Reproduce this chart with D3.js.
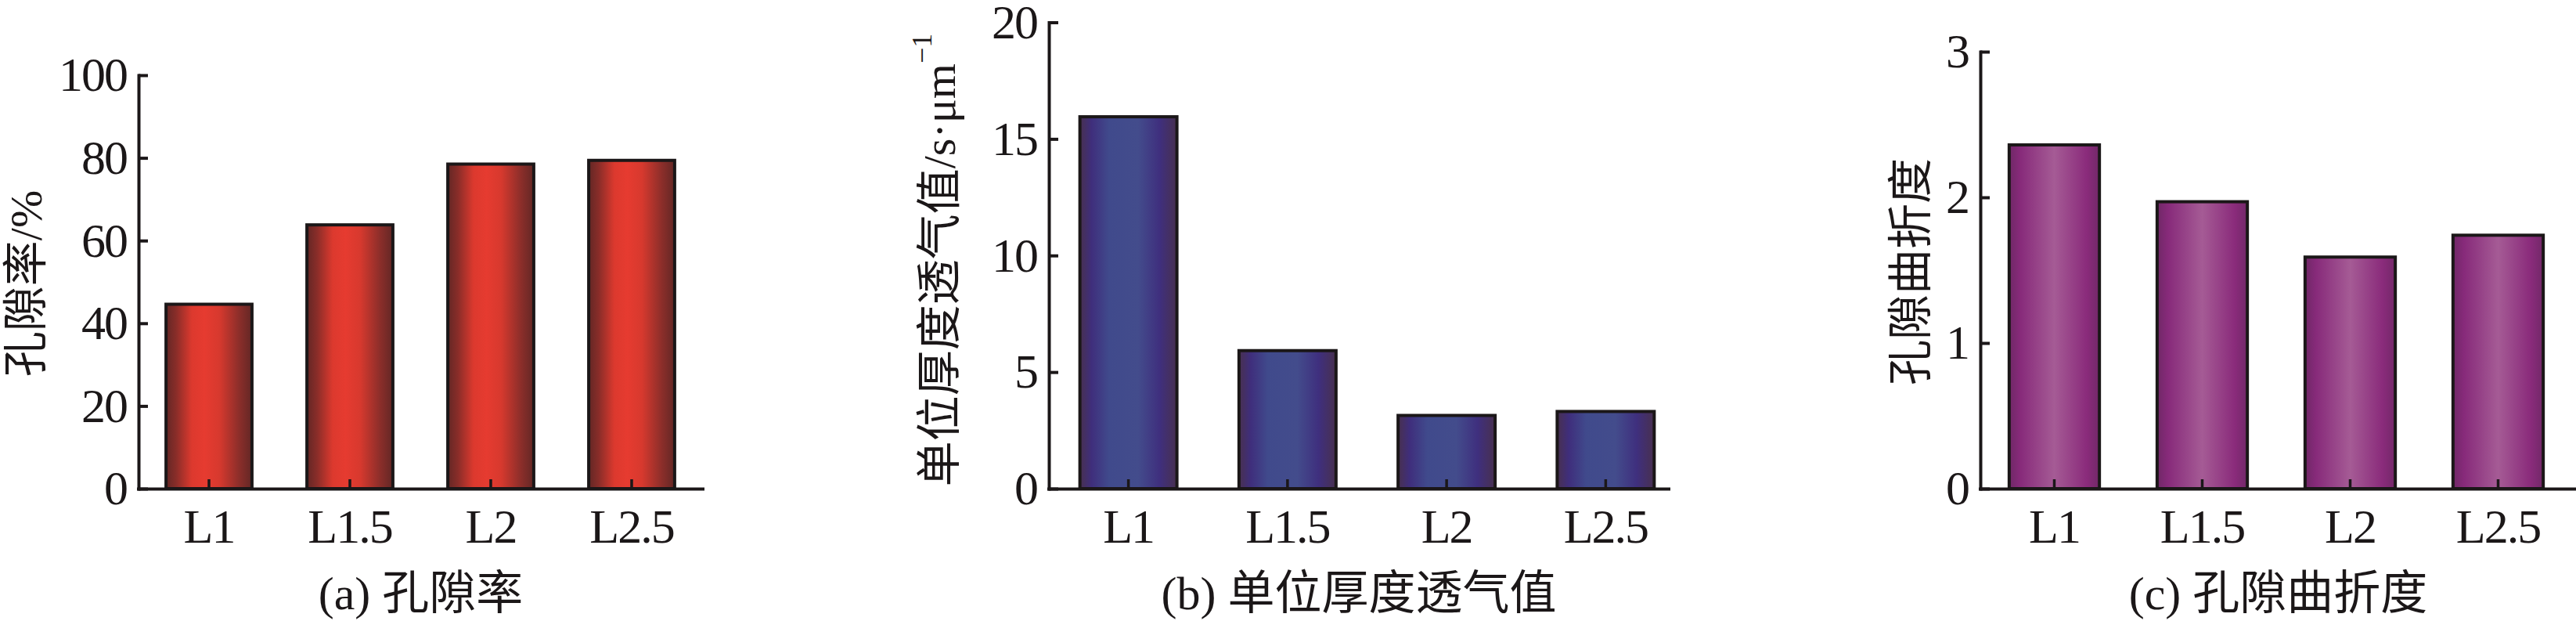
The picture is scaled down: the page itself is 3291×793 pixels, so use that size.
<!DOCTYPE html>
<html>
<head>
<meta charset="utf-8">
<script src="https://cdn.jsdelivr.net/npm/d3@7"></script>
<style>
  html, body { margin: 0; padding: 0; background: #fff; }
  svg { display: block; }
</style>
</head>
<body>
<svg id="chart" width="3291" height="793"></svg>
<script>
// ---------------- data ----------------
const categories = ["L1", "L1.5", "L2", "L2.5"];
const porosity = [44.6, 63.8, 78.5, 79.4];          // 孔隙率 / %
const permeability = [15.95, 5.92, 3.14, 3.31];     // 单位厚度透气值 / s·μm⁻¹
const tortuosity = [2.36, 1.97, 1.59, 1.74];        // 孔隙曲折度
const porosityTicks = [0, 20, 40, 60, 80, 100];
const permeabilityTicks = [0, 5, 10, 15, 20];
const tortuosityTicks = [0, 1, 2, 3];
const captions = ["(a) 孔隙率", "(b) 单位厚度透气值", "(c) 孔隙曲折度"];
const yTitles = ["孔隙率/%", "单位厚度透气值/s·μm", "孔隙曲折度"];
const yTitleSup = ["", "−1", ""];

// ---------------- layout / style ----------------
const FONT = "'Liberation Serif', 'Noto Sans CJK SC', serif";
const INK = "#1b1718";
const yZero = 624;
const panels = [
  { values: porosity, ticks: porosityTicks, max: 100, x0: 177, x1: 897, axisEnd: 898, yTop: 96,
    titleX: 33, titleY: 362, grad: "gradRed" },
  { values: permeability, ticks: permeabilityTicks, max: 20, x0: 1340, x1: 2153, axisEnd: 2132, yTop: 28.5,
    titleX: 1200, titleY: 332, grad: "gradBlue" },
  { values: tortuosity, ticks: tortuosityTicks, max: 3, x0: 2530, x1: 3286, axisEnd: 3291, yTop: 66,
    titleX: 2441, titleY: 347, grad: "gradPurple" }
];
const gradients = {
  gradRed: [[0, "#632725"], [0.12, "#8a2d29"], [0.3, "#dc392e"], [0.45, "#e63b30"], [0.62, "#d7392e"], [0.85, "#8c2e2a"], [1, "#632725"]],
  gradBlue: [[0, "#48304f"], [0.12, "#3f2e7c"], [0.3, "#404a8c"], [0.6, "#434c8c"], [0.82, "#3f2f7e"], [1, "#48304f"]],
  gradPurple: [[0, "#6f2866"], [0.12, "#872a7a"], [0.5, "#a55b95"], [0.86, "#8a2b7b"], [1, "#722868"]]
};

const svg = d3.select("#chart");
const defs = svg.append("defs");
Object.entries(gradients).forEach(([id, stops]) => {
  const g = defs.append("linearGradient").attr("id", id)
    .attr("x1", 0).attr("x2", 1).attr("y1", 0).attr("y2", 0);
  stops.forEach(([o, c]) => g.append("stop").attr("offset", o).attr("stop-color", c));
});

panels.forEach((p, i) => {
  const x = d3.scaleBand().domain(categories).range([p.x0, p.x1])
    .paddingInner(0.39).paddingOuter(0.195);
  const y = d3.scaleLinear().domain([0, p.max]).range([yZero, p.yTop]);
  const g = svg.append("g");

  // bars
  g.selectAll("rect.bar").data(p.values).join("rect")
    .attr("class", "bar")
    .attr("x", (d, j) => x(categories[j]))
    .attr("y", d => y(d))
    .attr("width", x.bandwidth())
    .attr("height", d => y(0) - y(d))
    .attr("fill", `url(#${p.grad})`)
    .attr("stroke", INK)
    .attr("stroke-width", 4);

  // y axis
  const ya = g.append("g").attr("transform", `translate(${p.x0},0)`)
    .call(d3.axisLeft(y).tickValues(p.ticks).tickFormat(d3.format("d"))
      .tickSize(-12).tickPadding(15).tickSizeOuter(0));
  ya.attr("font-size", 62).attr("font-family", FONT);
  ya.select(".domain").attr("stroke", INK).attr("stroke-width", 4).attr("stroke-linecap", "square");
  ya.selectAll(".tick line").attr("stroke", INK).attr("stroke-width", 4);
  ya.selectAll(".tick text").attr("fill", INK).attr("letter-spacing", "-2px");

  // x axis
  const xa = g.append("g").attr("transform", `translate(0,${yZero})`)
    .call(d3.axisBottom(x).tickSize(-12).tickPadding(25).tickSizeOuter(0));
  xa.attr("font-size", 62).attr("font-family", FONT);
  xa.select(".domain").attr("d", `M${p.x0},0.5H${p.axisEnd}`)
    .attr("stroke", INK).attr("stroke-width", 4).attr("stroke-linecap", "square");
  xa.selectAll(".tick line").attr("stroke", INK).attr("stroke-width", 3.5);
  xa.selectAll(".tick text").attr("fill", INK).attr("letter-spacing", "-2px");

  // y title
  const t = g.append("text")
    .attr("transform", `translate(${p.titleX},${p.titleY}) rotate(-90)`)
    .attr("text-anchor", "middle")
    .attr("dominant-baseline", "central")
    .attr("font-family", FONT)
    .attr("font-size", 58)
    .attr("fill", INK);
  t.append("tspan").text(yTitles[i]);
  if (yTitleSup[i]) {
    t.append("tspan").attr("font-size", 36).attr("dy", -22).text(yTitleSup[i]);
  }

  // caption
  g.append("text")
    .attr("x", (p.x0 + p.axisEnd) / 2)
    .attr("y", 778)
    .attr("text-anchor", "middle")
    .attr("font-family", FONT)
    .attr("font-size", 60)
    .attr("fill", INK)
    .text(captions[i]);
});
</script>
</body>
</html>
